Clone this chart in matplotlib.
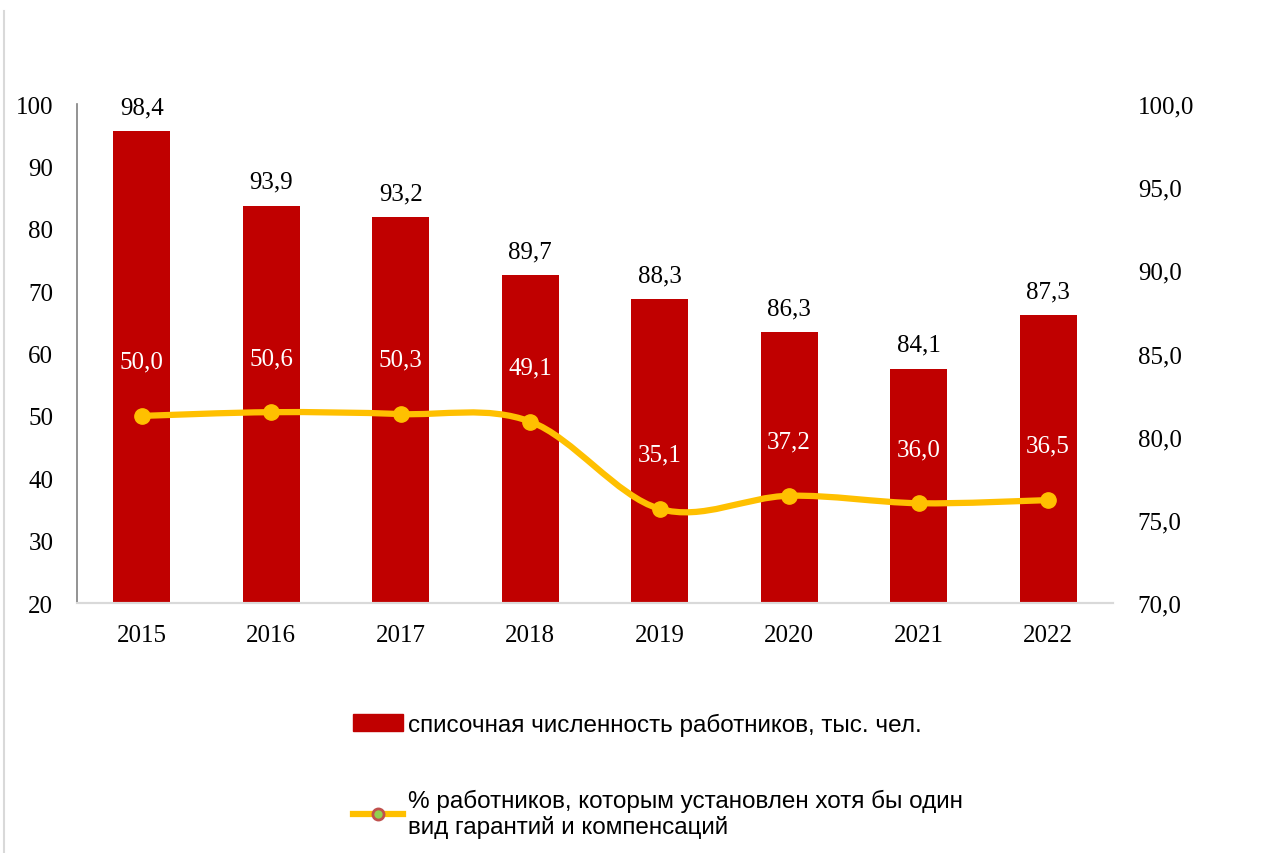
import matplotlib
matplotlib.use("Agg")
import matplotlib.pyplot as plt
from matplotlib.path import Path
from matplotlib.patches import PathPatch, Patch
from matplotlib.lines import Line2D
import numpy as np

years = ["2015", "2016", "2017", "2018", "2019", "2020", "2021", "2022"]
staff = [98.4, 93.9, 93.2, 89.7, 88.3, 86.3, 84.1, 87.3]        # тыс. чел., right axis
share = [50.0, 50.6, 50.3, 49.1, 35.1, 37.2, 36.0, 36.5]        # %, left axis

bar_label = "списочная численность работников, тыс. чел."
line_label = "% работников, которым установлен хотя бы один\nвид гарантий и компенсаций"

RED = "#C00000"
GOLD = "#FFC000"
SERIF = ["Liberation Serif", "DejaVu Serif"]
NARROW = ["Liberation Sans Narrow", "Liberation Sans", "DejaVu Sans"]
FS = 18


def fmt(v):
    return f"{v:.1f}".replace(".", ",")


fig = plt.figure(figsize=(12.82, 8.54), dpi=100)
ax = fig.add_axes([0.060, 0.2927, 0.808, 0.5843])
ax2 = ax.twinx()

x = np.arange(len(years))

# bars on the right-hand scale
ax.bar(x, staff, width=0.44, color=RED, zorder=2)
ax.set_ylim(70, 100)
ax.set_yticks(np.arange(70, 100.1, 5))
ax.set_yticklabels([fmt(v) for v in np.arange(70, 100.1, 5)], fontfamily=SERIF, fontsize=FS)
ax.yaxis.tick_right()
ax.set_xlim(-0.5, len(years) - 0.5)
ax.set_xticks(x)
ax.set_xticklabels(years, fontfamily=SERIF, fontsize=FS)
ax.tick_params(axis="both", length=0)
ax.tick_params(axis="x", pad=15)
ax.tick_params(axis="y", pad=18)
for i, v in enumerate(staff):
    ax.annotate(fmt(v), (x[i], v), xytext=(0, 17), textcoords="offset points",
                ha="center", va="center", fontfamily=SERIF, fontsize=FS, color="black")

# share line on the left-hand scale, smoothed like Excel
ax2.set_ylim(20, 100)
ax2.set_yticks(np.arange(20, 101, 10))
ax2.set_yticklabels([str(v) for v in range(20, 101, 10)], fontfamily=SERIF, fontsize=FS)
ax2.yaxis.tick_left()
ax2.tick_params(axis="y", length=0, pad=17)

pts = np.column_stack([x, share]).astype(float)
verts = [pts[0]]
codes = [Path.MOVETO]
for i in range(len(pts) - 1):
    p0 = pts[i - 1] if i > 0 else pts[i]
    p1, p2 = pts[i], pts[i + 1]
    p3 = pts[i + 2] if i + 2 < len(pts) else pts[i + 1]
    verts += [p1 + (p2 - p0) / 6, p2 - (p3 - p1) / 6, p2]
    codes += [Path.CURVE4] * 3
ax2.add_patch(PathPatch(Path(verts, codes), facecolor="none", edgecolor=GOLD,
                        lw=4.5, capstyle="round", zorder=3))
ax2.plot(x, share, "o", color=GOLD, ms=11, zorder=4)
for i, v in enumerate(share):
    ax2.annotate(fmt(v), (x[i], v), xytext=(0, 39), textcoords="offset points",
                 ha="center", va="center", fontfamily=SERIF, fontsize=FS, color="white")

for a in (ax, ax2):
    for s in ("top", "right", "left"):
        a.spines[s].set_visible(False)
    a.spines["bottom"].set_color("#D9D9D9")
    a.spines["bottom"].set_linewidth(1.5)
ax2.spines["left"].set_visible(True)
ax2.spines["left"].set_color("#808080")
ax2.spines["left"].set_linewidth(1.2)

# legend
handles = [Patch(facecolor=RED, edgecolor=RED),
           Line2D([], [], color=GOLD, lw=4.5, marker="o", ms=8,
                  markerfacecolor="#92D050", markeredgecolor="#C0504D", markeredgewidth=2)]
fig.legend(handles, [bar_label, line_label], loc="upper left",
           bbox_to_anchor=(0.268, 0.175), frameon=False,
           prop={"family": NARROW, "size": 17.5}, handlelength=2.05, handletextpad=0.2,
           labelspacing=2.15, borderaxespad=0, bbox_transform=fig.transFigure)

# chart border on the left
fig.add_artist(Line2D([0.0035, 0.0035], [0, 0.986], color="#D9D9D9", lw=1.5,
                      transform=fig.transFigure))

fig.savefig("out.png", dpi=100)
